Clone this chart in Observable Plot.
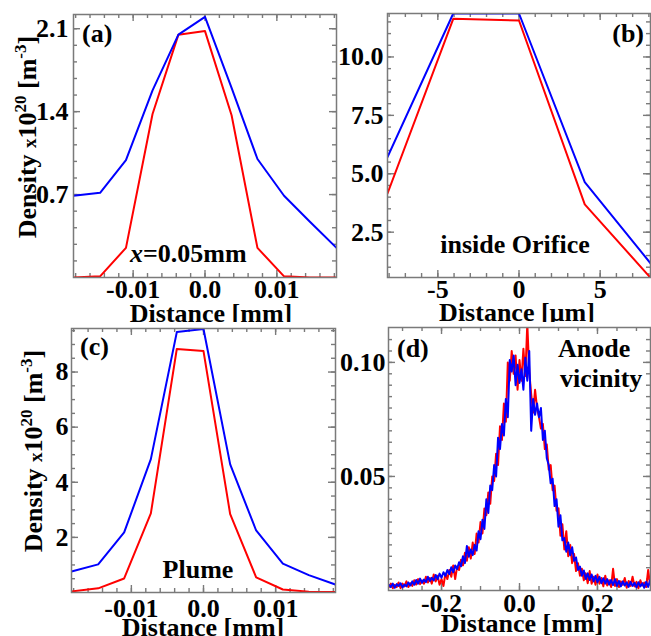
<!DOCTYPE html>
<html><head><meta charset="utf-8">
<script src="https://cdn.jsdelivr.net/npm/d3@7"></script>
<script src="https://cdn.jsdelivr.net/npm/@observablehq/plot@0.6"></script>
<style>
html,body{margin:0;padding:0;background:#fff;}
#wrap{position:relative;width:651px;height:636px;overflow:hidden;background:#fff;}
#wrap > div{position:absolute;}
</style></head><body><div id="wrap"></div>
<script>
// ---------- data ----------
// (a) x = 0.05 mm
const aX = [-0.0183,-0.0146,-0.011,-0.0073,-0.0037,0,0.0037,0.0073,0.011,0.0146,0.0183];
const aBlue = [0.69,0.715,0.99,1.58,2.05,2.2,1.6,1.0,0.69,0.47,0.25];
const aRed  = [0.0,0.01,0.25,1.38,2.05,2.08,1.37,0.25,0.01,0.0,0.0];
const aXTicks = [-0.01,0,0.01], aXLabels = ["-0.01","0.0","0.01"];
const aYTicks = [0.7,1.4,2.1], aYLabels = ["0.7","1.4","2.1"];
// (b) inside orifice (µm)
const bX = [-8.1,-4.05,0,4.05,8.1];
const bBlue = [5.71,11.86,11.86,4.64,1.17];
const bRed  = [4.16,11.63,11.56,3.69,0.55];
const bXTicks = [-5,0,5], bXLabels = ["-5","0","5"];
const bYTicks = [2.5,5,7.5,10], bYLabels = ["2.5","5.0","7.5","10.0"];
// (c) plume
const cX = [-0.0183,-0.0146,-0.011,-0.0073,-0.0037,0,0.0037,0.0073,0.011,0.0146,0.0183];
const cBlue = [0.76,1.02,2.18,4.84,9.45,9.56,4.65,2.25,1.05,0.63,0.29];
const cRed  = [0.04,0.15,0.51,2.87,8.84,8.76,2.84,0.55,0.11,0.03,0.02];
const cXTicks = [-0.01,0,0.01], cXLabels = ["-0.01","0.0","0.01"];
const cYTicks = [2,4,6,8], cYLabels = ["2","4","6","8"];
// (d) anode vicinity
const dX = [-0.335,-0.33,-0.325,-0.32,-0.315,-0.31,-0.305,-0.3,-0.295,-0.29,
-0.285,-0.28,-0.275,-0.27,-0.265,-0.26,-0.255,-0.25,-0.245,-0.24,
-0.235,-0.23,-0.225,-0.22,-0.215,-0.21,-0.205,-0.2,-0.195,-0.19,
-0.185,-0.18,-0.175,-0.17,-0.165,-0.16,-0.155,-0.15,-0.145,-0.14,
-0.135,-0.13,-0.125,-0.12,-0.115,-0.11,-0.105,-0.1,-0.095,-0.09,
-0.085,-0.08,-0.075,-0.07,-0.065,-0.06,-0.055,-0.05,-0.045,-0.04,
-0.035,-0.03,-0.025,-0.02,-0.015,-0.01,-0.005,0,0.005,0.01,
0.015,0.02,0.025,0.03,0.035,0.04,0.045,0.05,0.055,0.06,
0.065,0.07,0.075,0.08,0.085,0.09,0.095,0.1,0.105,0.11,
0.115,0.12,0.125,0.13,0.135,0.14,0.145,0.15,0.155,0.16,
0.165,0.17,0.175,0.18,0.185,0.19,0.195,0.2,0.205,0.21,
0.215,0.22,0.225,0.23,0.235,0.24,0.245,0.25,0.255,0.26,
0.265,0.27,0.275,0.28,0.285,0.29,0.295,0.3,0.305,0.31,
0.315,0.32,0.325,0.33,0.335];
const dBlue = [.0025,.0015,.0030,.0012,.0028,.0020,.0032,.0014,.0026,.0018,
.0035,.0022,.0040,.0025,.0046,.0030,.0052,.0034,.0048,.0036,
.0060,.0042,.0056,.0044,.0068,.0050,.0074,.0056,.0080,.0064,
.0090,.0072,.0102,.0080,.0110,.0094,.0124,.0106,.0150,.0120,
.0195,.0148,.0180,.0155,.0200,.0175,.0260,.0225,.0310,.0270,
.0400,.0340,.0460,.0440,.0550,.0500,.0670,.0620,.0730,.0680,
.0840,.0760,.1010,.0960,.1030,.0900,.0990,.0910,.0970,.0880,
.1020,.0920,.1050,.0700,.0840,.0770,.0820,.0760,.0800,.0660,
.0700,.0580,.0550,.0470,.0490,.0370,.0400,.0280,.0330,.0220,
.0230,.0170,.0210,.0155,.0190,.0130,.0145,.0090,.0105,.0065,
.0088,.0050,.0075,.0046,.0070,.0040,.0064,.0036,.0060,.0032,
.0054,.0030,.0050,.0026,.0046,.0024,.0050,.0020,.0042,.0018,
.0040,.0022,.0036,.0016,.0038,.0020,.0034,.0014,.0036,.0018,
.0032,.0012,.0038,.0016,.0045];
const dRed = [.0015,.0030,.0010,.0025,.0015,.0035,.0010,.0030,.0018,.0040,
.0015,.0032,.0020,.0045,.0026,.0050,.0028,.0044,.0030,.0060,
.0035,.0055,.0030,.0070,.0040,.0065,.0025,.0050,.0020,.0075,
.0050,.0090,.0060,.0110,.0050,.0105,.0090,.0135,.0110,.0165,
.0130,.0190,.0140,.0210,.0160,.0250,.0210,.0300,.0250,.0360,
.0330,.0430,.0380,.0500,.0480,.0600,.0550,.0720,.0660,.0820,
.0740,.1000,.0920,.1050,.0950,.1030,.0880,.1010,.0920,.1060,
.0940,.1170,.0960,.0860,.0780,.0880,.0800,.0760,.0710,.0730,
.0620,.0640,.0530,.0550,.0440,.0460,.0350,.0360,.0240,.0290,
.0180,.0260,.0150,.0200,.0120,.0160,.0085,.0120,.0065,.0095,
.0045,.0075,.0032,.0085,.0030,.0060,.0025,.0070,.0030,.0055,
.0018,.0065,.0022,.0045,.0015,.0095,.0020,.0050,.0015,.0040,
.0025,.0055,.0012,.0042,.0020,.0060,.0018,.0038,.0010,.0045,
.0022,.0035,.0015,.0090,.0025];
const dXTicks = [-0.2,0,0.2], dXLabels = ["-0.2","0.0","0.2"];
const dYTicks = [0.05,0.10], dYLabels = ["0.05","0.10"];

// ---------- styling ----------
const RED = "#ff0000", BLUE = "#0000ff", FRAME = "#7a7a7a";
const FONT = "'Liberation Serif','Times New Roman',serif";
const wrap = document.getElementById("wrap");

function panel(o) {
  const fw = o.width - o.ml - o.mr, fh = o.height - o.mt - o.mb;
  const [x0, x1] = o.xDomain, [y0, y1] = o.yDomain;
  const upx = (x1 - x0) / fw, upy = (y1 - y0) / fh;
  const ts = {stroke: FRAME, strokeWidth: 1.4};
  const marks = [];
  for (const [vals, len] of [[o.xMinor, 4], [o.xTicks, 7]]) {
    marks.push(Plot.ruleX(vals, {x: d => d, y1: y0, y2: y0 + len * upy, ...ts}));
    marks.push(Plot.ruleX(vals, {x: d => d, y1: y1 - len * upy, y2: y1, ...ts}));
  }
  for (const [vals, len] of [[o.yMinor, 4], [o.yTicks, 7]]) {
    marks.push(Plot.ruleY(vals, {y: d => d, x1: x0, x2: x0 + len * upx, ...ts}));
    marks.push(Plot.ruleY(vals, {y: d => d, x1: x1 - len * upx, x2: x1, ...ts}));
  }
  const red = o.x.map((v, i) => ({x: v, y: o.red[i]}));
  const blue = o.x.map((v, i) => ({x: v, y: o.blue[i]}));
  marks.push(Plot.line(red, {x: "x", y: "y", stroke: RED, strokeWidth: 2, clip: true}));
  marks.push(Plot.line(blue, {x: "x", y: "y", stroke: BLUE, strokeWidth: 2, clip: true}));
  marks.push(Plot.frame({stroke: FRAME, strokeWidth: 1.5}));
  const xl = new Map(o.xTicks.map((t, i) => [t, o.xLabels[i]]));
  const yl = new Map(o.yTicks.map((t, i) => [t, o.yLabels[i]]));
  marks.push(Plot.axisX({ticks: o.xTicks, anchor: "bottom", tickSize: 0, tickPadding: o.xPad,
    tickFormat: d => xl.get(d) ?? String(d), label: null}));
  marks.push(Plot.axisY({ticks: o.yTicks, anchor: "left", tickSize: 0, tickPadding: o.yPad,
    tickFormat: d => yl.get(d) ?? String(d), label: null}));
  const svg = Plot.plot({
    width: o.width, height: o.height,
    marginLeft: o.ml, marginRight: o.mr, marginTop: o.mt, marginBottom: o.mb,
    x: {domain: o.xDomain, axis: null},
    y: {domain: o.yDomain, axis: null},
    style: {fontFamily: FONT, fontSize: "26px", fontWeight: "bold", background: "transparent", overflow: "visible", color: "#000"},
    marks
  });
  const div = document.createElement("div");
  div.style.left = o.left + "px"; div.style.top = o.top + "px";
  div.appendChild(svg);
  wrap.appendChild(div);
  return d3.select(svg);
}

function addText(sel, x, y, parts, anchor = "start", size = 26) {
  const t = sel.append("text").attr("x", x).attr("y", y).attr("text-anchor", anchor)
    .style("font-family", FONT).style("font-weight", "bold").style("font-size", size + "px").attr("fill", "#000");
  for (const p of parts) {
    const s = t.append("tspan").text(p.t);
    if (p.italic) s.style("font-style", "italic");
  }
  return t;
}

function yTitle(sel, x, y) {
  const t = sel.append("text").attr("transform", `translate(${x},${y}) rotate(-90)`)
    .attr("text-anchor", "middle").style("font-family", FONT).style("font-weight", "bold")
    .style("font-size", "26px").attr("fill", "#000");
  t.append("tspan").text("Density ");
  t.append("tspan").style("font-size", "19px").text("x");
  t.append("tspan").text("10");
  t.append("tspan").style("font-size", "17px").attr("dy", -10).text("20");
  t.append("tspan").attr("dy", 10).text(" [m");
  t.append("tspan").style("font-size", "17px").attr("dy", -10).text("-3");
  t.append("tspan").attr("dy", 10).text("]");
}

// (a)
const A = panel({left: 0, top: 0, width: 345, height: 322, ml: 73, mr: 9, mt: 14, mb: 45,
  x: aX, red: aRed, blue: aBlue, xDomain: [-0.0183, 0.0183], yDomain: [0, 2.22],
  xTicks: aXTicks, xLabels: aXLabels, yTicks: aYTicks, yLabels: aYLabels,
  xMinor: d3.range(-0.018, 0.0181, 0.002), yMinor: d3.range(0.14, 2.22, 0.14), xPad: 2, yPad: 5});
yTitle(A, 36, 137);
addText(A, 82, 42, [{t: "(a)"}]);
addText(A, 130, 262, [{t: "x", italic: true}, {t: "=0.05mm"}]);
addText(A, 211, 322, [{t: "Distance [mm]"}], "middle", 26);

// (b)
const B = panel({left: 330, top: 0, width: 321, height: 322, ml: 57, mr: 1, mt: 13, mb: 45,
  x: bX, red: bRed, blue: bBlue, xDomain: [-8.1, 8.1], yDomain: [0.56, 11.86],
  xTicks: bXTicks, xLabels: bXLabels, yTicks: bYTicks, yLabels: bYLabels,
  xMinor: d3.range(-8, 8.01, 1), yMinor: d3.range(1, 11.86, 0.5), xPad: 2, yPad: 4});
addText(B, 314, 42, [{t: "(b)"}], "end");
addText(B, 185, 253, [{t: "inside Orifice"}], "middle");
addText(B, 187, 321, [{t: "Distance [\u00b5m]"}], "middle", 26);

// white mask over lower half
const mask = document.createElement("div");
mask.style.left = "0px"; mask.style.top = "322px"; mask.style.width = "651px"; mask.style.height = "314px";
mask.style.background = "#fff";
wrap.appendChild(mask);

// (c)
const C = panel({left: 0, top: 322, width: 345, height: 314, ml: 71, mr: 10, mt: 6, mb: 44,
  x: cX, red: cRed, blue: cBlue, xDomain: [-0.0183, 0.0183], yDomain: [0, 9.58],
  xTicks: cXTicks, xLabels: cXLabels, yTicks: cYTicks, yLabels: cYLabels,
  xMinor: d3.range(-0.018, 0.0181, 0.002), yMinor: d3.range(0.5, 9.58, 0.5), xPad: 6, yPad: 3});
yTitle(C, 42, 129);
addText(C, 80, 33, [{t: "(c)"}]);
addText(C, 198, 256, [{t: "Plume"}], "middle");
addText(C, 203, 314, [{t: "Distance [mm]"}], "middle", 26);

// (d)
const D = panel({left: 330, top: 322, width: 321, height: 314, ml: 58, mr: 1, mt: 5, mb: 46,
  x: dX, red: dRed, blue: dBlue, xDomain: [-0.336, 0.336], yDomain: [0, 0.1153],
  xTicks: dXTicks, xLabels: dXLabels, yTicks: dYTicks, yLabels: dYLabels,
  xMinor: d3.range(-0.3, 0.301, 0.05), yMinor: d3.range(0.005, 0.115, 0.005), xPad: 3, yPad: 3});
addText(D, 67, 35, [{t: "(d)"}]);
addText(D, 228, 35, [{t: "Anode"}]);
addText(D, 230, 65, [{t: "vicinity"}]);
addText(D, 192, 310, [{t: "Distance [mm]"}], "middle", 26);
</script></body></html>
